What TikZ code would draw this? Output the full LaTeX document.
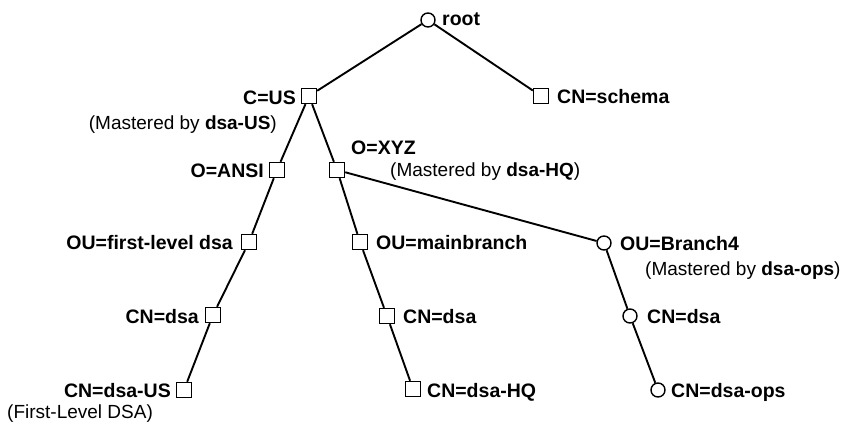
\documentclass[tikz,border=0pt]{standalone}
\usepackage{fontspec}
\setmainfont{Liberation Sans}
\begin{document}
\begin{tikzpicture}[x=1pt,y=-1pt,
  sq/.style={draw,rectangle,minimum size=15pt,inner sep=0pt,line width=1.4pt},
  rd/.style={draw,circle,minimum size=14pt,inner sep=0pt,line width=1.4pt},
  lbl/.style={inner sep=0pt,font=\fontsize{19.5}{22}\selectfont\bfseries},
  note/.style={inner sep=0pt,font=\fontsize{19}{22}\selectfont},
  edge/.style={line width=1.9pt}]
\useasboundingbox (0,0) rectangle (847,424);

% directory entries
\node[rd] (root)   at (428,20)  {};
\node[sq] (schema) at (541,96)  {};
\node[sq] (us)     at (309,96)  {};
\node[sq] (ansi)   at (277,170) {};
\node[sq] (xyz)    at (337,170) {};
\node[sq] (fld)    at (249,242) {};
\node[sq] (main)   at (360,242) {};
\node[rd] (br4)    at (604,243) {};
\node[sq] (dsa1)   at (213,315) {};
\node[sq] (dsa2)   at (387,316) {};
\node[rd] (dsa3)   at (630,316) {};
\node[sq] (dsaus)  at (184,390) {};
\node[sq] (dsahq)  at (413,389) {};
\node[rd] (dsaops) at (658,390) {};

% tree edges
\draw[edge] (root) -- (us);
\draw[edge] (root) -- (schema);
\draw[edge] (us) -- (ansi);
\draw[edge] (us) -- (xyz);
\draw[edge] (ansi) -- (fld);
\draw[edge] (fld) -- (dsa1);
\draw[edge] (dsa1) -- (dsaus);
\draw[edge] (xyz) -- (main);
\draw[edge] (main) -- (dsa2);
\draw[edge] (dsa2) -- (dsahq);
\draw[edge] (xyz) -- (br4);
\draw[edge] (br4) -- (dsa3);
\draw[edge] (dsa3) -- (dsaops);

% entry names
\node[lbl,anchor=base west] (t-root)   at (442,25)  {root};
\node[lbl,anchor=base west] (t-schema) at (557,103) {CN=schema};
\node[lbl,anchor=base east] (t-us)     at (296,104) {C=US};
\node[lbl,anchor=base east] (t-ansi)   at (264,177) {O=ANSI};
\node[lbl,anchor=base west] (t-xyz)    at (351,154) {O=XYZ};
\node[lbl,anchor=base east] (t-fld)    at (233,249) {OU=first-level dsa};
\node[lbl,anchor=base west] (t-main)   at (376,249) {OU=mainbranch};
\node[lbl,anchor=base west] (t-br4)    at (620,250) {OU=Branch4};
\node[lbl,anchor=base east] (t-dsa1)   at (199,323) {CN=dsa};
\node[lbl,anchor=base west] (t-dsa2)   at (403,323) {CN=dsa};
\node[lbl,anchor=base west] (t-dsa3)   at (647,323) {CN=dsa};
\node[lbl,anchor=base east] (t-dsaus)  at (171,397) {CN=dsa-US};
\node[lbl,anchor=base west] (t-dsahq)  at (427,397) {CN=dsa-HQ};
\node[lbl,anchor=base west] (t-dsaops) at (671,397) {CN=dsa-ops};

% mastering notes
\node[note,anchor=base east] (n-us)  at (277,129) {(Mastered by \textbf{dsa-US})};
\node[note,anchor=base west] (n-xyz) at (390,176) {(Mastered by \textbf{dsa-HQ})};
\node[note,anchor=base west] (n-br4) at (645,275) {(Mastered by \textbf{dsa-ops})};
\node[note,anchor=base west] (n-fl)  at (7,418)   {(First-Level DSA)};
\end{tikzpicture}
\end{document}
